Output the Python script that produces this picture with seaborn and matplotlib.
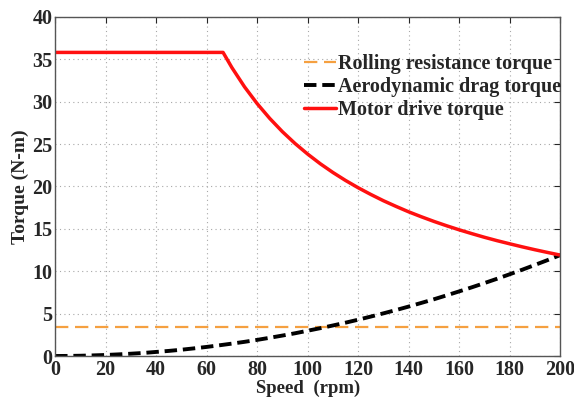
import numpy as np
import pandas as pd
import matplotlib.pyplot as plt
import seaborn as sns

# values
speed = [0, 5, 10, 15, 20, 25, 30, 35, 40, 45, 50, 55, 60, 65, 70, 75, 80, 85, 90, 95, 100,
         105, 110, 115, 120, 125, 130, 135, 140, 145, 150, 155, 160, 165, 170, 175, 180, 185,
         190, 195, 200]
rolling = [3.4] * len(speed)
aero = [0, 0.01, 0.03, 0.07, 0.12, 0.19, 0.27, 0.36, 0.48, 0.60, 0.74, 0.90, 1.07, 1.26, 1.46,
        1.67, 1.90, 2.15, 2.41, 2.68, 2.98, 3.28, 3.60, 3.93, 4.28, 4.65, 5.03, 5.42, 5.83, 6.26,
        6.69, 7.15, 7.62, 8.10, 8.60, 9.11, 9.64, 10.18, 10.74, 11.31, 11.90]

motor_speed = [0, 66.5, 70, 75, 80, 85, 90, 95, 100, 105, 110, 115, 120, 125, 130, 135, 140,
               145, 150, 155, 160, 165, 170, 175, 180, 185, 190, 195, 200]
motor = [35.8, 35.8, 34.01, 31.74, 29.76, 28.01, 26.45, 25.06, 23.81, 22.67, 21.64, 20.70,
         19.84, 19.05, 18.31, 17.64, 17.00, 16.42, 15.87, 15.36, 14.88, 14.43, 14.00, 13.60,
         13.23, 12.87, 12.53, 12.21, 11.90]

df = pd.DataFrame({'speed': speed, 'rolling': rolling, 'aero': aero})
df_motor = pd.DataFrame({'speed': motor_speed, 'motor': motor})

sns.set_style('white')
plt.rcParams['font.family'] = ['Liberation Serif', 'DejaVu Serif']
plt.rcParams['font.weight'] = 'bold'

fig = plt.figure(figsize=(5.74, 4.0), dpi=100)
ax = fig.add_axes([0.096, 0.11, 0.88, 0.848])

sns.lineplot(data=df, x='speed', y='rolling', ax=ax, color='#f5a040', lw=1.6,
             label='Rolling resistance torque', linestyle=(0, (6, 3)))
sns.lineplot(data=df, x='speed', y='aero', ax=ax, color='black', lw=2.8,
             label='Aerodynamic drag torque', linestyle=(0, (3.2, 1.5)))
sns.lineplot(data=df_motor, x='speed', y='motor', ax=ax, color='#ff1010', lw=2.5,
             label='Motor drive torque')

ax.set_xlim(0, 200)
ax.set_ylim(0, 40)
ax.set_xticks(range(0, 201, 20))
ax.set_yticks(range(0, 41, 5))
ax.grid(True, linestyle=(0, (1, 3)), color='#a8a8a8', lw=0.8)
ax.tick_params(direction='in', top=True, right=True, labelsize=14.5, length=4, width=0.8, pad=2)
ax.tick_params(axis='x', pad=3)
for lab in ax.get_xticklabels() + ax.get_yticklabels():
    lab.set_fontweight('bold')
for s in ax.spines.values():
    s.set_color('#555555')
    s.set_linewidth(1.0)

ax.set_xlabel('Speed  (rpm)', fontsize=13.5, fontweight='bold', labelpad=0)
ax.set_ylabel('Torque (N-m)', fontsize=14, fontweight='bold', labelpad=2)

leg = ax.legend(loc='upper right', bbox_to_anchor=(1.026, 0.925), frameon=False,
                prop={'size': 14.5, 'weight': 'bold'}, handlelength=1.6,
                handletextpad=0.1, labelspacing=0.15, borderaxespad=0.2)

fig.savefig('out.png', dpi=100)
